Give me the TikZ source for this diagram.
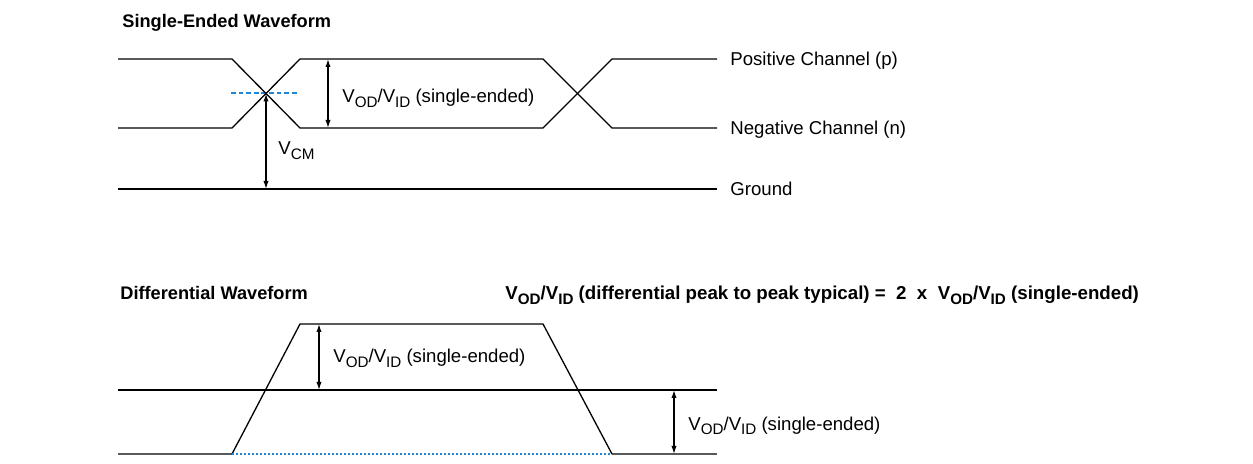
\documentclass[tikz,border=0pt]{standalone}
\usepackage{fontspec}
\setmainfont{Liberation Sans}
\usetikzlibrary{arrows.meta}
\newcommand{\lowtxt}[1]{\raisebox{-0.5ex}{\fontsize{7.6}{8}\selectfont #1}}
\newcommand{\vodvid}{V\lowtxt{OD}/V\lowtxt{ID}}
\definecolor{guideblue}{RGB}{30,135,215}

\begin{document}
\begin{tikzpicture}[x=0.5pt, y=-0.5pt,
    wave/.style={line width=0.65pt},
    rail/.style={line width=1.2pt},
    lowrail/.style={line width=1.2pt, draw=black!65},
    midline/.style={line width=1pt, draw=guideblue,
        dash pattern=on 2.4pt off 1.4pt},
    dotline/.style={line width=0.8pt, draw=guideblue,
        dash pattern=on 1pt off 1pt},
    dim/.style={line width=0.6pt,
        {Latex[length=4pt,width=2.6pt]}-{Latex[length=4pt,width=2.6pt]}},
    lbl/.style={font=\fontsize{9.3}{11}\selectfont, anchor=base west, inner sep=0pt},
    title/.style={font=\fontsize{9.1}{11}\selectfont\bfseries, anchor=base west, inner sep=0pt}
]
    \useasboundingbox (0,0) rectangle (1253,464);

    % single-ended
    \node[title] (setitle) at (122,28) {Single-Ended Waveform};
    \coordinate (pstart) at (118,59);
    \coordinate (nstart) at (118,128);
    \coordinate (gstart) at (118,189);
    \coordinate (pend) at (717,59);
    \coordinate (nend) at (717,128);
    \coordinate (gend) at (717,189);
    \coordinate (cross) at (266,93.5);
    \coordinate (cmfoot) at (266,189);
    \coordinate (odtop) at (328,59);
    \coordinate (odbot) at (328,128);
    \draw[midline] (231,93.5) -- (298,93.5);
    \draw[wave] (pstart) -- (232,59) -- (300,128) -- (543,128) -- (612,59) -- (pend);
    \draw[wave] (nstart) -- (232,128) -- (300,59) -- (543,59) -- (612,128) -- (nend);
    \draw[rail] (gstart) -- (gend);
    \draw[dim] (cross) -- (cmfoot);
    \draw[dim] (odtop) -- (odbot);
    \node[lbl] (vcm) at (278,155) {V\lowtxt{CM}};
    \node[lbl] (vodse) at (342,103) {\vodvid{} (single-ended)};
    \node[lbl] (pchan) at (730,66) {Positive Channel (p)};
    \node[lbl] (nchan) at (730,135) {Negative Channel (n)};
    \node[lbl] (gnd) at (730,196) {Ground};

    % differential
    \node[title] (dftitle) at (120,300) {Differential Waveform};
    \node[title, font=\fontsize{9.35}{11}\selectfont\bfseries] (formula) at (505,300)
        {\vodvid{} (differential peak to peak typical) =~~2~~x~~\vodvid{} (single-ended)};
    \coordinate (mstart) at (118,390);
    \coordinate (mend) at (717,390);
    \coordinate (toptop) at (319,324);
    \coordinate (topmid) at (319,390);
    \coordinate (botmid) at (674,390);
    \coordinate (botbot) at (674,454);
    \draw[lowrail] (118,454) -- (232,454);
    \draw[lowrail] (612,454) -- (717,454);
    \draw[wave] (232,454) -- (300,324) -- (543,324) -- (612,454);
    \draw[rail] (mstart) -- (mend);
    \draw[dotline] (232,454) -- (612,454);
    \draw[dim] (toptop) -- (topmid);
    \draw[dim] (botmid) -- (botbot);
    \node[lbl] (vodtop) at (333,363) {\vodvid{} (single-ended)};
    \node[lbl] (vodbot) at (688,430) {\vodvid{} (single-ended)};
\end{tikzpicture}
\end{document}
